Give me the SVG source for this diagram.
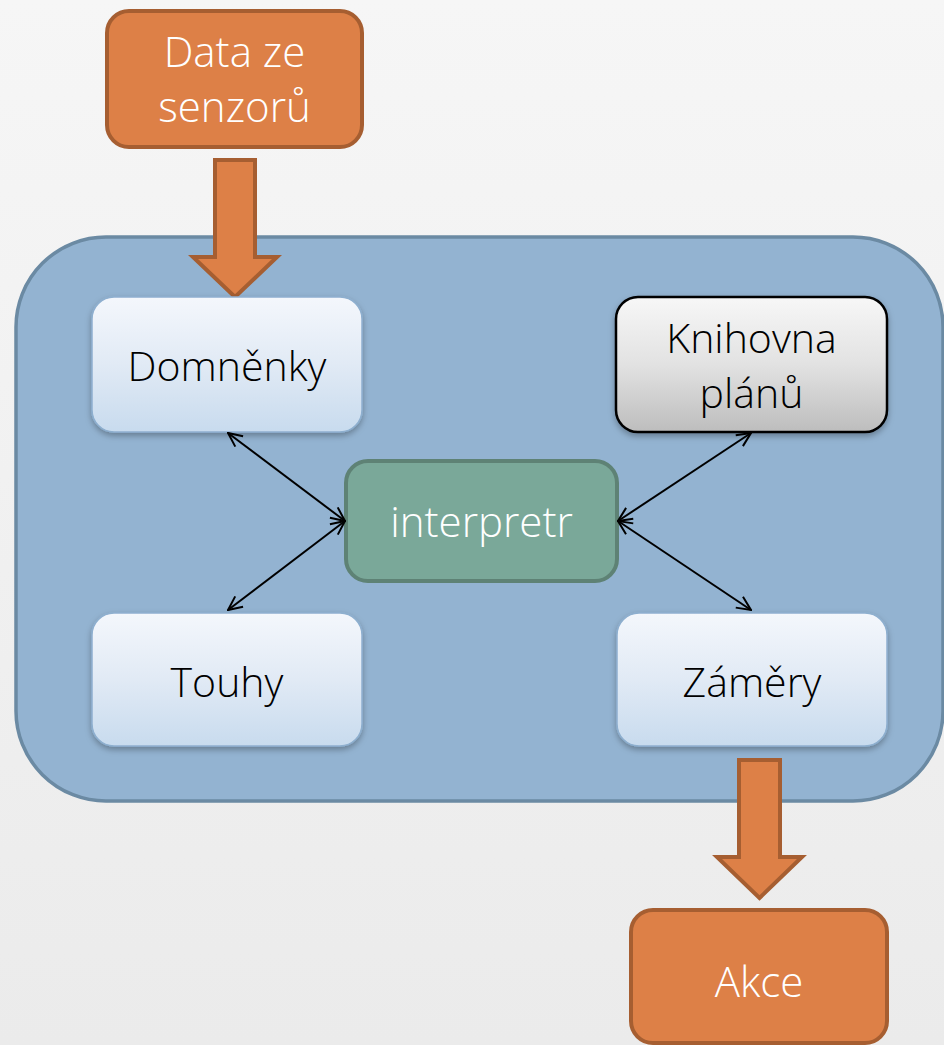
<svg xmlns="http://www.w3.org/2000/svg" width="944" height="1045" viewBox="0 0 944 1045">
<defs>
<linearGradient id="bg" x1="0" y1="0" x2="0" y2="1">
<stop offset="0" stop-color="#f6f6f6"/>
<stop offset="1" stop-color="#ebebeb"/>
</linearGradient>
<linearGradient id="light" x1="0" y1="0" x2="0" y2="1">
<stop offset="0" stop-color="#f4f7fc"/>
<stop offset="0.5" stop-color="#e1eaf5"/>
<stop offset="1" stop-color="#c8dbee"/>
</linearGradient>
<linearGradient id="gray" x1="0" y1="0" x2="0" y2="1">
<stop offset="0" stop-color="#f7f7f7"/>
<stop offset="0.5" stop-color="#e2e2e2"/>
<stop offset="1" stop-color="#bdbdbd"/>
</linearGradient>
<filter id="sh" x="-10%" y="-10%" width="120%" height="130%">
<feDropShadow dx="0" dy="3" stdDeviation="3" flood-color="#000" flood-opacity="0.3"/>
</filter>
<marker id="ah" viewBox="0 0 16 16" refX="15" refY="8" markerWidth="16" markerHeight="16" markerUnits="userSpaceOnUse" orient="auto-start-reverse">
<path d="M1,1.5 L15,8 L1,14.5" fill="none" stroke="#000" stroke-width="2"/>
</marker>
<style>
.light{fill:url(#light);stroke:#8eafcf;stroke-width:1.5}
.orange{fill:#dd8047;stroke:#a65e31;stroke-width:4}
.wt{font-family:"Open Sans","Segoe UI",sans-serif;font-weight:300;font-size:42px;fill:#fff;text-anchor:middle}
.bt{font-family:"Open Sans","Segoe UI",sans-serif;font-weight:350;font-size:41px;fill:#000;text-anchor:middle}
.conn{stroke:#000;stroke-width:2;fill:none;marker-start:url(#ah);marker-end:url(#ah)}
</style>
</defs>
<rect width="944" height="1045" fill="url(#bg)"/>
<g id="container">
<rect x="16" y="237" width="927" height="564" rx="90" fill="#93b3d1" stroke="#6b8aa3" stroke-width="3.5"/>
</g>
<g id="data">
<rect class="orange" x="107" y="11" width="255" height="136" rx="22"/>
<text class="wt" x="234.5" y="67">Data ze</text>
<text class="wt" x="234.5" y="122">senzorů</text>
</g>
<g id="arrow-in">
<path class="orange" d="M215,160 L255,160 L255,257 L277,257 L235,297 L193,257 L215,257 Z" stroke-width="3.5"/>
</g>
<g id="domnenky">
<rect class="light" x="92" y="297" width="270" height="135" rx="22" filter="url(#sh)"/>
<text class="bt" x="227" y="381">Domněnky</text>
</g>
<g id="knihovna">
<rect x="616" y="297" width="271" height="135" rx="22" fill="url(#gray)" stroke="#000" stroke-width="2.5" filter="url(#sh)"/>
<text class="bt" x="751.5" y="353">Knihovna</text>
<text class="bt" x="751.5" y="408">plánů</text>
</g>
<g id="interpretr">
<rect x="346" y="461" width="271" height="120" rx="22" fill="#7aa899" stroke="#5e8275" stroke-width="4"/>
<text class="wt" x="481.5" y="537">interpretr</text>
</g>
<g id="touhy">
<rect class="light" x="92" y="613" width="270" height="133" rx="22" filter="url(#sh)"/>
<text class="bt" x="227" y="697">Touhy</text>
</g>
<g id="zamery">
<rect class="light" x="617" y="613" width="270" height="133" rx="22" filter="url(#sh)"/>
<text class="bt" x="752" y="697">Záměry</text>
</g>
<g id="arrow-out">
<path class="orange" d="M739,760 L780,760 L780,857 L802,857 L759.5,898 L717,857 L739,857 Z" stroke-width="3.5"/>
</g>
<g id="akce">
<rect class="orange" x="631" y="910" width="256" height="133" rx="22"/>
<text class="wt" x="759" y="997">Akce</text>
</g>
<g id="connectors">
<line class="conn" x1="228" y1="433" x2="345" y2="521"/>
<line class="conn" x1="228" y1="610" x2="345" y2="521"/>
<line class="conn" x1="751" y1="433" x2="618" y2="521"/>
<line class="conn" x1="751" y1="610" x2="618" y2="521"/>
</g>
</svg>
